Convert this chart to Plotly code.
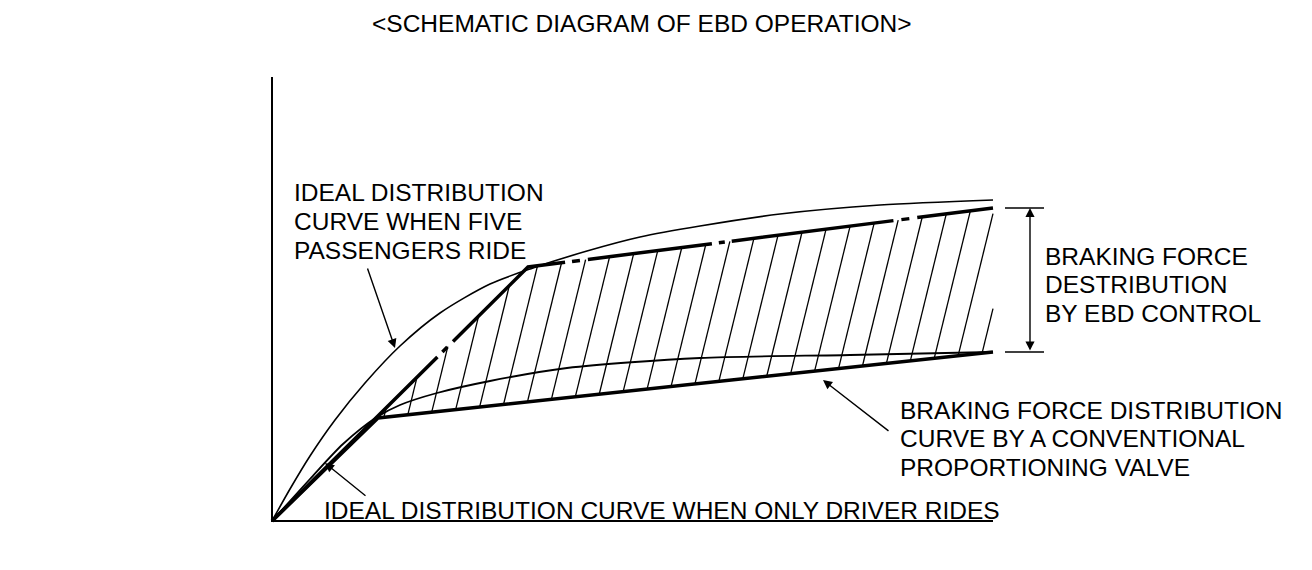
import numpy as np
import plotly.graph_objects as go

# ---------------- data (force units, arbitrary scale) ----------------
five_x = [0, 1.8, 3.8, 6.3, 9.3, 12.8, 16.8, 21.8, 26.1, 31.5, 36.8, 42.8, 50.8, 60.8, 72.1]
five_y = [0, 3.2, 6.5, 10.1, 13.8, 17.5, 20.8, 23.7, 25.3, 27.0, 28.4, 29.5, 30.7, 31.6, 32.1]

driver_x = [0, 1.8, 3.8, 7.1, 10.5, 12.8, 16.5, 21.8, 29.5, 42.8, 57.8, 72.1]
driver_y = [0, 2.0, 4.2, 7.7, 10.4, 11.6, 12.8, 14.0, 15.3, 16.3, 16.6, 16.9]

conv_x = [0, 10.6, 72.1]
conv_y = [0, 10.3, 16.9]

ebd_x = [0, 25.6, 72.1]
ebd_y = [0, 25.4, 31.3]

axis_x_end = 72.1
axis_y_end = 44.4

# hatch parameters
hatch_ref_y = 11.4
hatch_first_x = 16.1
hatch_step = 2.33
hatch_slant = 0.245   # dx per dy
hatch_k = list(range(-2, 26))

ebd_range_x = 75.8
ebd_tick_x = [73.3, 77.2]

title_text = "&lt;SCHEMATIC DIAGRAM OF EBD OPERATION&gt;"
y_title = "REAR BRAKE FORCE"
x_title = "FRONT BRAKING FORCE"
five_lines = ["IDEAL DISTRIBUTION", "CURVE WHEN FIVE", "PASSENGERS RIDE"]
ebd_lines = ["BRAKING FORCE", "DESTRIBUTION", "BY EBD CONTROL"]
conv_lines = ["BRAKING FORCE DISTRIBUTION", "CURVE BY A CONVENTIONAL", "PROPORTIONING VALVE"]
driver_label = "IDEAL DISTRIBUTION CURVE WHEN ONLY DRIVER RIDES"

# ---------------- figure ----------------
FONT = "Liberation Sans, Arial, Helvetica, sans-serif"
FS = 24.5
BLACK = "#000000"

fig = go.Figure()

# hatch lines between conventional valve curve and EBD upper curve
ys = np.linspace(0, 40, 8001)
hx, hy = [], []
for k in hatch_k:
    xr = hatch_first_x + hatch_step * k
    xs = xr + hatch_slant * (ys - hatch_ref_y)
    lo = np.interp(xs, conv_x, conv_y)
    up = np.interp(xs, ebd_x, ebd_y)
    m = (ys >= lo) & (ys <= up) & (xs <= axis_x_end) & (xs >= 0)
    if m.sum() < 2:
        continue
    y0, y1 = ys[m].min(), ys[m].max()
    hx += [xr + hatch_slant * (y0 - hatch_ref_y), xr + hatch_slant * (y1 - hatch_ref_y), None]
    hy += [y0, y1, None]
fig.add_trace(go.Scatter(x=hx, y=hy, mode="lines", line=dict(color=BLACK, width=1.3)))

# axes
fig.add_trace(go.Scatter(x=[0, 0, axis_x_end], y=[axis_y_end, 0, 0], mode="lines",
                         line=dict(color=BLACK, width=2)))

# ideal curves
fig.add_trace(go.Scatter(x=five_x, y=five_y, mode="lines",
                         line=dict(color=BLACK, width=1.6, shape="spline", smoothing=0.8)))
fig.add_trace(go.Scatter(x=driver_x, y=driver_y, mode="lines",
                         line=dict(color=BLACK, width=1.8, shape="spline", smoothing=0.8)))

# conventional proportioning valve
fig.add_trace(go.Scatter(x=conv_x, y=conv_y, mode="lines", line=dict(color=BLACK, width=3.5)))

# EBD upper limit (dash-dot breaks)
fig.add_trace(go.Scatter(
    x=ebd_x, y=ebd_y, mode="lines",
    line=dict(color=BLACK, width=3.5,
              dash="233px,7px,7px,8px,143px,7px,8px,8px,125px,7px,6px,7px,163px,8px,8px,8px,200px,10px")))

# EBD range ticks
for yv in (ebd_y[-1], conv_y[-1]):
    fig.add_trace(go.Scatter(x=ebd_tick_x, y=[yv, yv], mode="lines", line=dict(color=BLACK, width=1.5)))

ann = []
def text(x, y, s, xanchor="left"):
    ann.append(dict(x=x, y=y, xref="x", yref="y", text=s, showarrow=False,
                    xanchor=xanchor, yanchor="middle",
                    font=dict(family=FONT, size=FS, color=BLACK)))

def arrow(x_head, y_head, x_tail, y_tail, side="end"):
    ann.append(dict(x=x_head, y=y_head, ax=x_tail, ay=y_tail, xref="x", yref="y",
                    axref="x", ayref="y", text="", showarrow=True, arrowhead=2,
                    arrowsize=1.3, arrowwidth=1.4, arrowcolor=BLACK, standoff=0,
                    startstandoff=0, arrowside=side, startarrowhead=2, startarrowsize=1.3))

text(37.0, 49.8, title_text, "center")
text(-26.2, 22.8, y_title)
text(36.3, -2.7, x_title, "center")
for i, s in enumerate(five_lines):
    text(2.0, 32.9 - 2.9 * i, s)
for i, s in enumerate(ebd_lines):
    text(77.1, 26.5 - 2.85 * i, s)
for i, s in enumerate(conv_lines):
    text(62.6, 11.1 - 2.85 * i, s)
text(5.0, 1.1, driver_label)

arrow(12.3, 17.3, 9.5, 25.4)          # five passengers
arrow(5.3, 5.8, 9.5, 2.4)             # driver only
arrow(55.1, 14.1, 61.8, 8.9)          # conventional valve
arrow(ebd_range_x, ebd_y[-1], ebd_range_x, conv_y[-1], side="end+start")  # EBD range

fig.update_layout(
    width=1312, height=570,
    margin=dict(l=267, r=0, t=0, b=44, pad=0),
    paper_bgcolor="white", plot_bgcolor="white",
    showlegend=False,
    annotations=ann,
    xaxis=dict(range=[-0.5, 104.0], visible=False, fixedrange=True),
    yaxis=dict(range=[-0.5, 52.1], visible=False, fixedrange=True),
)

fig.write_html("out.html", config={"displayModeBar": False},
               post_script="document.body.style.margin='0';document.body.style.overflow='hidden';")
